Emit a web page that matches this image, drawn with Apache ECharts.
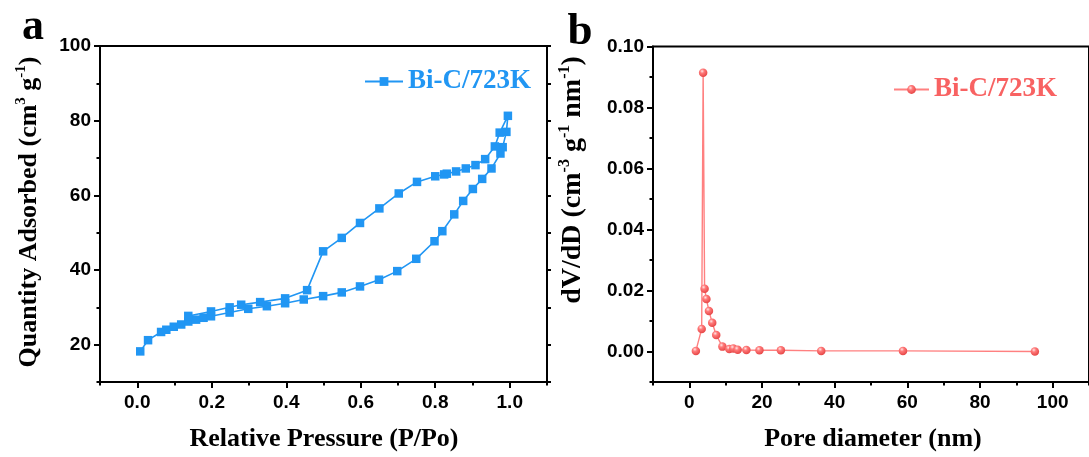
<!DOCTYPE html>
<html>
<head>
<meta charset="utf-8">
<script src="https://cdn.jsdelivr.net/npm/echarts@6/dist/echarts.min.js"></script>
<style>
html,body{margin:0;padding:0;background:#fff;}
#c{width:1089px;height:457px;}
</style>
</head>
<body>
<div id="c"></div>
<script>
// ---- panel a: N2 adsorption/desorption isotherm ----
const adsP = [0.008,0.029,0.064,0.078,0.098,0.118,0.137,0.158,0.178,0.198,0.248,0.298,0.348,0.397,0.447,0.499,0.549,0.598,0.649,0.698,0.749,0.798,0.819,0.851,0.875,0.901,0.926,0.951,0.975,0.981,0.991,0.995];
const adsQ = [18.2,21.2,23.4,24.0,24.8,25.4,26.2,26.7,27.2,27.6,28.6,29.6,30.3,31.1,32.1,33.0,34.0,35.6,37.4,39.7,43.0,47.7,50.4,54.9,58.5,61.7,64.4,67.2,71.2,72.9,77.0,81.3];
const desP = [0.973,0.960,0.934,0.908,0.882,0.856,0.831,0.824,0.800,0.751,0.702,0.650,0.598,0.549,0.499,0.456,0.397,0.330,0.279,0.248,0.198,0.137];
const desQ = [76.8,73.1,69.7,68.1,67.2,66.4,65.8,65.6,65.1,63.6,60.5,56.5,52.6,48.6,45.0,34.6,32.4,31.4,30.7,30.0,28.9,27.7];
const aXTicks = [0,0.2,0.4,0.6,0.8,1.0];
const aXMinor = [-0.1,0.1,0.3,0.5,0.7,0.9,1.1];
const aYTicks = [20,40,60,80,100];
const aYMinor = [10,30,50,70,90];
const aYRight = [10,20,30,40,50,60,70,80,90,100];

// ---- panel b: pore size distribution ----
const poreD = [1.8,3.4,3.8,4.2,4.7,5.4,6.3,7.4,9.1,11.0,12.1,13.3,15.7,19.3,25.2,36.3,58.8,95.1];
const dVdD = [0.0002,0.0074,0.0914,0.0206,0.0172,0.0133,0.0094,0.0054,0.0016,0.0008,0.0010,0.0006,0.0005,0.0004,0.0004,0.0002,0.0002,0.0000];
const bXTicks = [0,20,40,60,80,100];
const bXMinor = [-10,10,30,50,70,90,110];
const bYTicks = [0,0.02,0.04,0.06,0.08,0.10];
const bYMinor = [-0.01,0.01,0.03,0.05,0.07,0.09];

const legendText = 'Bi-C/723K';

const BLUE = '#2196F3';
const RED = '#f86262';
const SANS = '"Liberation Sans", Arial, sans-serif';
const SERIF = '"Liberation Serif", "Times New Roman", serif';

const isoData = adsP.map((p,i)=>[p,adsQ[i]]).concat(desP.map((p,i)=>[p,desQ[i]]));
const poreData = poreD.map((d,i)=>[d,dVdD[i]]);

const chart = echarts.init(document.getElementById('c'), null, {renderer:'canvas'});

function mainAxis(gridIndex, pos, min, max, ticks, fmt, margin){
  return {
    type:'value', gridIndex, position:pos, min, max,
    axisLine:{show:true, onZero:false, lineStyle:{color:'#000', width:2}},
    axisTick:{show:true, inside:false, length:6, lineStyle:{color:'#000', width:2}, customValues:ticks},
    axisLabel:{show:true, customValues:ticks, formatter:fmt, margin,
      fontFamily:SANS, fontWeight:'bold', fontSize:19, color:'#000'},
    splitLine:{show:false}
  };
}
function tickAxis(gridIndex, pos, min, max, ticks, len){
  return {
    type:'value', gridIndex, position:pos, min, max,
    axisLine:{show:false, onZero:false},
    axisTick:{show:true, inside:false, length:len, lineStyle:{color:'#000', width:2}, customValues:ticks},
    axisLabel:{show:false},
    splitLine:{show:false}
  };
}

const redSphere = new echarts.graphic.RadialGradient(0.38, 0.32, 0.7, [
  {offset:0, color:'#ffe6e6'},
  {offset:0.35, color:'#ff7a7a'},
  {offset:1, color:'#e64545'}
]);

const option = {
  animation:false,
  backgroundColor:'#fff',
  grid:[
    {left:100, top:46, width:447, height:336, show:true, borderColor:'#000', borderWidth:2, backgroundColor:'transparent'},
    {left:653, top:46.5, width:438, height:335.5, show:true, borderColor:'#000', borderWidth:2, backgroundColor:'transparent'}
  ],
  xAxis:[
    mainAxis(0,'bottom',-0.1,1.1,aXTicks,v=>v.toFixed(1),11),
    tickAxis(0,'bottom',-0.1,1.1,aXMinor,3.5),
    mainAxis(1,'bottom',-10,110,bXTicks,v=>String(Math.round(v)),11),
    tickAxis(1,'bottom',-10,110,bXMinor,3.5)
  ],
  yAxis:[
    mainAxis(0,'left',10,100,aYTicks,v=>String(Math.round(v)),9),
    tickAxis(0,'left',10,100,aYMinor,3.5),
    tickAxis(0,'right',10,100,aYRight,4),
    mainAxis(1,'left',-0.01,0.10,bYTicks,v=>v.toFixed(2),9),
    tickAxis(1,'left',-0.01,0.10,bYMinor,3.5)
  ],
  legend:[
    {left:364, top:68, padding:0, itemWidth:38, itemHeight:11, itemGap:0, selectedMode:false,
     data:[{name:'isotherm', textStyle:{color:BLUE}}],
     formatter:()=>legendText,
     textStyle:{fontFamily:SERIF, fontWeight:'bold', fontSize:27, color:BLUE}},
    {left:893, top:76, padding:0, itemWidth:35, itemHeight:11, itemGap:0, selectedMode:false,
     data:[{name:'pore', textStyle:{color:RED}}],
     formatter:()=>legendText,
     textStyle:{fontFamily:SERIF, fontWeight:'bold', fontSize:27, color:RED}}
  ],
  series:[
    {name:'isotherm', type:'line', xAxisIndex:0, yAxisIndex:0, data:isoData,
     symbol:'rect', symbolSize:8.5, showAllSymbol:true,
     lineStyle:{color:BLUE, width:1.6},
     itemStyle:{color:BLUE},
     emphasis:{disabled:true}},
    {name:'pore', type:'line', xAxisIndex:2, yAxisIndex:3, data:poreData,
     symbol:'circle', symbolSize:8.5, showAllSymbol:true,
     lineStyle:{color:'#ff8080', width:1.4},
     itemStyle:{color:redSphere},
     emphasis:{disabled:true}}
  ],
  graphic:[
    {type:'text', x:33, y:28, style:{text:'a', fontFamily:SERIF, fontWeight:'bold', fontSize:44, fill:'#000', align:'center', verticalAlign:'middle'}},
    {type:'text', x:580, y:32, style:{text:'b', fontFamily:SERIF, fontWeight:'bold', fontSize:45, fill:'#000', align:'center', verticalAlign:'middle'}},
    {type:'text', x:29, y:212, rotation:Math.PI/2,
     style:{text:'Quantity Adsorbed (cm{sup|3} g{sup|-1})', fontFamily:SERIF, fontWeight:'bold', fontSize:26, lineHeight:30, fill:'#000', align:'center', verticalAlign:'middle',
       rich:{sup:{fontFamily:SERIF, fontWeight:'bold', fontSize:15, lineHeight:14, verticalAlign:'top', fill:'#000'}}}},
    {type:'text', x:573, y:180, rotation:Math.PI/2,
     style:{text:'dV/dD (cm{sup|-3} g{sup|-1} nm{sup|-1})', fontFamily:SERIF, fontWeight:'bold', fontSize:28, lineHeight:32, fill:'#000', align:'center', verticalAlign:'middle',
       rich:{sup:{fontFamily:SERIF, fontWeight:'bold', fontSize:16, lineHeight:15, verticalAlign:'top', fill:'#000'}}}},
    {type:'text', x:324, y:439, style:{text:'Relative Pressure (P/Po)', fontFamily:SERIF, fontWeight:'bold', fontSize:26, fill:'#000', align:'center', verticalAlign:'middle'}},
    {type:'text', x:873, y:439, style:{text:'Pore diameter (nm)', fontFamily:SERIF, fontWeight:'bold', fontSize:26, fill:'#000', align:'center', verticalAlign:'middle'}}
  ]
};
chart.setOption(option);
</script>
</body>
</html>
